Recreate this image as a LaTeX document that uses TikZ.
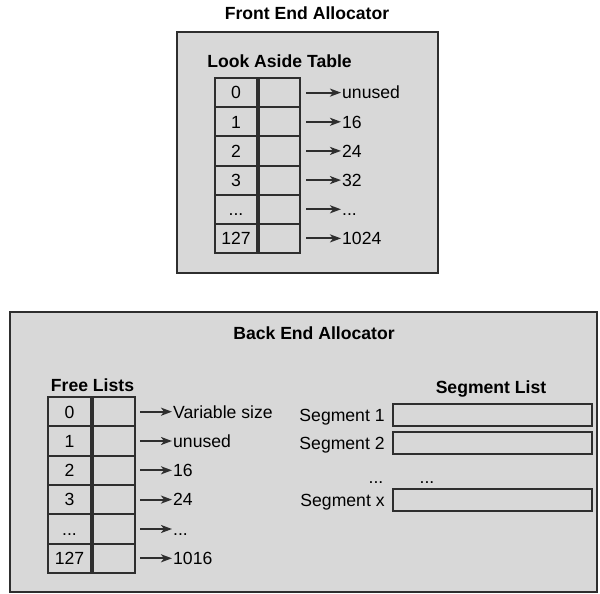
\documentclass[tikz,border=0pt]{standalone}
\usepackage{fontspec}
\setmainfont{Liberation Sans}
\usetikzlibrary{arrows.meta, positioning}
\definecolor{panelgray}{HTML}{D8D8D8}
\definecolor{linegray}{HTML}{2E2E2E}

\begin{document}
\begin{tikzpicture}[
    x=1pt, y=-1pt,
    >=Stealth,
    font=\fontsize{17.6}{20}\selectfont,
    allocbox/.style={draw=linegray, line width=2.4pt, fill=panelgray, inner sep=0pt},
    cell/.style={draw=linegray, line width=2pt, fill=panelgray, inner sep=0pt,
                 minimum height=29.2pt, text height=12.6pt, text depth=0pt},
    idxcell/.style={cell, minimum width=42pt},
    ptrcell/.style={cell, minimum width=41pt},
    segbox/.style={draw=linegray, line width=2.4pt, fill=panelgray, inner sep=0pt,
                   minimum width=199pt, minimum height=22pt},
    arr/.style={line width=2pt, draw=linegray,
                -{Stealth[length=11pt, width=8pt, inset=3pt]}},
    lbl/.style={inner sep=1pt, text height=12.6pt, text depth=0pt},
    hdr/.style={lbl, font=\fontsize{17.6}{20}\selectfont\bfseries},
]
\useasboundingbox (0,0) rectangle (600,594);
% === Front end allocator: look aside table, one entry per size class ===
\node[hdr] (fronttitle) at (307,13) {Front End Allocator};
\node[allocbox, minimum width=261pt, minimum height=241pt] (front) at (307.5,152.5) {};
\node[hdr] (latitle) at (279.5,61) {Look Aside Table};
\node[idxcell] (la0) at (236,92.6) {0};
\node[idxcell] (la1) at (236,121.8) {1};
\node[idxcell] (la2) at (236,150.9) {2};
\node[idxcell] (la3) at (236,180.1) {3};
\node[idxcell] (la4) at (236,209.3) {...};
\node[idxcell] (la5) at (236,238.4) {127};
\node[ptrcell, right=0pt of la0] (lap0) {};
\node[ptrcell, right=0pt of la1] (lap1) {};
\node[ptrcell, right=0pt of la2] (lap2) {};
\node[ptrcell, right=0pt of la3] (lap3) {};
\node[ptrcell, right=0pt of la4] (lap4) {};
\node[ptrcell, right=0pt of la5] (lap5) {};
\node[lbl, anchor=west] (lav0) at (341,92.6) {unused};
\node[lbl, anchor=west] (lav1) at (341,121.8) {16};
\node[lbl, anchor=west] (lav2) at (341,150.9) {24};
\node[lbl, anchor=west] (lav3) at (341,180.1) {32};
\node[lbl, anchor=west] (lav4) at (341,209.3) {...};
\node[lbl, anchor=west] (lav5) at (341,238.4) {1024};
\draw[arr] ([xshift=5pt]lap0.east) -- (lav0.west);
\draw[arr] ([xshift=5pt]lap1.east) -- (lav1.west);
\draw[arr] ([xshift=5pt]lap2.east) -- (lav2.west);
\draw[arr] ([xshift=5pt]lap3.east) -- (lav3.west);
\draw[arr] ([xshift=5pt]lap4.east) -- (lav4.west);
\draw[arr] ([xshift=5pt]lap5.east) -- (lav5.west);
% === Back end allocator: free lists on the left, segment list on the right ===
\node[allocbox, minimum width=587pt, minimum height=280pt] (back) at (303.5,452) {};
\node[hdr] (backtitle) at (314,333) {Back End Allocator};
\node[hdr] (fltitle) at (92.5,385) {Free Lists};
\node[idxcell, minimum width=43pt] (fl0) at (69.5,411.7) {0};
\node[idxcell, minimum width=43pt] (fl1) at (69.5,441.0) {1};
\node[idxcell, minimum width=43pt] (fl2) at (69.5,470.3) {2};
\node[idxcell, minimum width=43pt] (fl3) at (69.5,499.6) {3};
\node[idxcell, minimum width=43pt] (fl4) at (69.5,529.0) {...};
\node[idxcell, minimum width=43pt] (fl5) at (69.5,558.3) {127};
\node[ptrcell, minimum width=42pt, right=0pt of fl0] (flp0) {};
\node[ptrcell, minimum width=42pt, right=0pt of fl1] (flp1) {};
\node[ptrcell, minimum width=42pt, right=0pt of fl2] (flp2) {};
\node[ptrcell, minimum width=42pt, right=0pt of fl3] (flp3) {};
\node[ptrcell, minimum width=42pt, right=0pt of fl4] (flp4) {};
\node[ptrcell, minimum width=42pt, right=0pt of fl5] (flp5) {};
\node[lbl, anchor=west] (flv0) at (172,411.7) {Variable size};
\node[lbl, anchor=west] (flv1) at (172,441.0) {unused};
\node[lbl, anchor=west] (flv2) at (172,470.3) {16};
\node[lbl, anchor=west] (flv3) at (172,499.6) {24};
\node[lbl, anchor=west] (flv4) at (172,529.0) {...};
\node[lbl, anchor=west] (flv5) at (172,558.3) {1016};
\draw[arr] ([xshift=4pt]flp0.east) -- (flv0.west);
\draw[arr] ([xshift=4pt]flp1.east) -- (flv1.west);
\draw[arr] ([xshift=4pt]flp2.east) -- (flv2.west);
\draw[arr] ([xshift=4pt]flp3.east) -- (flv3.west);
\draw[arr] ([xshift=4pt]flp4.east) -- (flv4.west);
\draw[arr] ([xshift=4pt]flp5.east) -- (flv5.west);
% segments, each one a bar with its name to the left
\node[hdr] (sltitle) at (491,387) {Segment List};
\node[segbox] (seg1) at (492.5,415) {};
\node[segbox] (seg2) at (492.5,443) {};
\node[segbox] (segx) at (492.5,500) {};
\node[lbl, left=6pt of seg1] (seg1lbl) {Segment 1};
\node[lbl, left=6pt of seg2] (seg2lbl) {Segment 2};
\node[lbl, left=6pt of segx] (segxlbl) {Segment x};
\node[lbl] (segdots) at (376,477) {...};
\node[lbl] (bardots) at (427,477) {...};
\end{tikzpicture}
\end{document}
